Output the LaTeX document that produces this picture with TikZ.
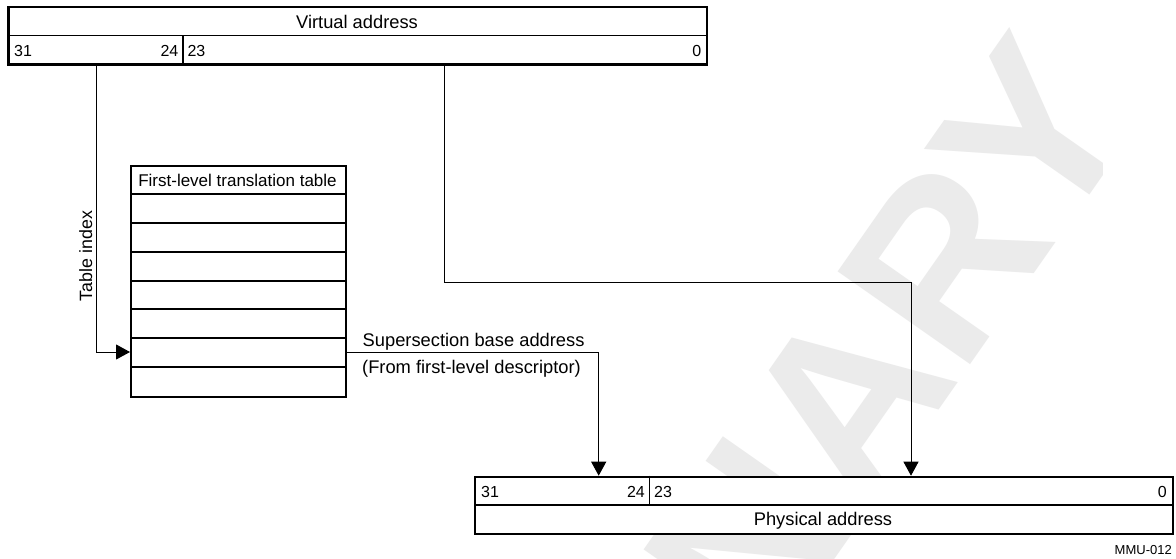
\documentclass[tikz,border=0pt]{standalone}
\usepackage{fontspec}
\setmainfont{Liberation Sans}
\usetikzlibrary{arrows.meta}
\definecolor{wm}{RGB}{235,235,235}
\begin{document}
\begin{tikzpicture}[x=1pt,y=-1pt,
  outer/.style={draw=black, line width=2.2pt, fill=white, inner sep=0pt, anchor=north west},
  innerline/.style={line width=1.3pt},
  conn/.style={line width=1pt},
  arr/.style={conn, -{Triangle[length=14pt,width=15pt]}},
  lbl/.style={inner sep=0pt, font=\fontsize{18.3}{20}\selectfont},
  bits/.style={inner sep=0pt, font=\fontsize{16}{18}\selectfont},
  wmtext/.style={inner sep=0pt, rotate=55, text=wm, font=\bfseries\fontsize{235}{240}\selectfont},
]
\useasboundingbox (0,0) rectangle (1176,558);
\fill[white] (0,0) rectangle (1176,558);
% watermark
\begin{scope}
  \clip (0,0) rectangle (1102,558);
  \coordinate (wmR) at (961.8,377.3);
  \node[wmtext, anchor=base west] (wm2) at (wmR) {RY};
  \node[wmtext, anchor=base east] (wm1) at (wmR) {PRELIMINA};
\end{scope}
% virtual address box
\node[outer, minimum width=698.7pt, minimum height=57.6pt] (va) at (7.3,5.7) {};
\draw[innerline] (7.3,35.7) -- (706,35.7);
\draw[innerline] (183,35.7) -- (183,63.3);
\node[lbl, anchor=base] (vat) at (357,28.3) {Virtual address};
\node[bits, anchor=base west] (v31) at (14,56) {31};
\node[bits, anchor=base east] (v24) at (178.5,56) {24};
\node[bits, anchor=base west] (v23) at (187.3,56) {23};
\node[bits, anchor=base east] (v0) at (701.5,56) {0};
% table
\node[outer, minimum width=215pt, minimum height=231pt] (tbl) at (130,165) {};
\foreach \yy in {194,223,252,281,309,338,367} \draw[innerline] (130,\yy) -- (345,\yy);
\node[inner sep=0pt, anchor=base, font=\fontsize{17}{19}\selectfont] (tblh) at (237.5,186.7) {First-level translation table};
% physical address box
\node[outer, minimum width=698pt, minimum height=57.3pt] (pa) at (474,475.7) {};
\draw[innerline] (474,505) -- (1172,505);
\draw[innerline] (649.7,475.7) -- (649.7,505);
\node[bits, anchor=base west] (p31) at (481,497) {31};
\node[bits, anchor=base east] (p24) at (645,497) {24};
\node[bits, anchor=base west] (p23) at (654,497) {23};
\node[bits, anchor=base east] (p0) at (1167,497) {0};
\node[lbl, anchor=base] (pat) at (823,525.5) {Physical address};
% connectors
\coordinate (c1) at (96,352);
\draw[arr] (va.south -| c1) |- (tbl.west |- c1);
\node[lbl, rotate=90, anchor=base, font=\fontsize{17.8}{19}\selectfont] (tix) at (92,256) {Table index};
\coordinate (c2) at (444,282);
\coordinate (c3) at (911,282);
\draw[arr] (va.south -| c2) -- (c2) -- (c3) -- (pa.north -| c3);
\coordinate (c4) at (598.7,352);
\draw[arr] (tbl.east |- c4) -- (c4) -- (pa.north -| c4);
\node[lbl, anchor=base west] (ss1) at (362.5,346.5) {Supersection base address};
\node[lbl, anchor=base west] (ss2) at (362,373) {(From first-level descriptor)};
\node[inner sep=0pt, anchor=base east, font=\fontsize{13}{15}\selectfont] (fig) at (1172,554) {MMU-012};
\end{tikzpicture}
\end{document}
